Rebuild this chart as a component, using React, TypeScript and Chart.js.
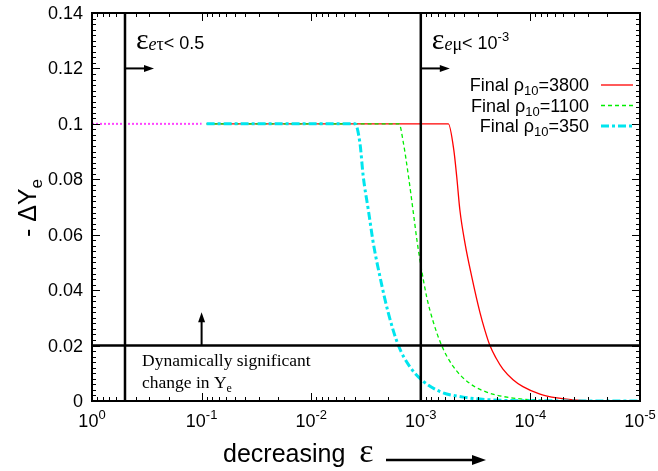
import React, { useEffect, useRef } from 'react';
import { Chart, registerables } from 'chart.js';
Chart.register(...registerables);

// ---- data ----
const eps3800 = [0.09, 5.6e-4, 5.0e-4, 4.7e-4, 4.4e-4, 3.95e-4, 3.43e-4, 2.88e-4, 2.6e-4, 2.34e-4, 2.06e-4, 1.78e-4, 1.44e-4, 1.17e-4, 8.17e-5, 5.71e-5, 4.08e-5, 2.5e-5, 1e-5];
const dY3800 = [0.1, 0.1, 0.0906, 0.0809, 0.0689, 0.0569, 0.0449, 0.0318, 0.0255, 0.0200, 0.0155, 0.0115, 0.0077, 0.0052, 0.0025, 0.0011, 0.0004, 0.0001, 0.0];

const eps1100 = [0.09, 1.58e-3, 1.44e-3, 1.3e-3, 1.17e-3, 1.08e-3, 1.0e-3, 8.83e-4, 7.69e-4, 6.45e-4, 5.05e-4, 3.56e-4, 2.34e-4, 1.53e-4, 1.01e-4, 5.37e-5, 1e-5];
const dY1100 = [0.1, 0.1, 0.093, 0.0815, 0.068, 0.0575, 0.049, 0.0375, 0.0285, 0.0200, 0.0124, 0.0063, 0.0028, 0.0012, 0.0005, 0.0001, 0.0];

const eps350 = [0.09, 3.98e-3, 3.59e-3, 3.35e-3, 3.01e-3, 2.71e-3, 2.36e-3, 1.98e-3, 1.6e-3, 1.26e-3, 9.82e-4, 6.68e-4, 4.1e-4, 2.51e-4, 1e-4, 1e-5];
const dY350 = [0.1, 0.1, 0.093, 0.081, 0.0689, 0.0569, 0.0449, 0.0318, 0.0200, 0.0124, 0.0076, 0.0034, 0.0014, 0.0005, 0.0001, 0.0];

const epsEarly = [1, 0.1];
const dYEarly = [0.1, 0.1];

const boundaryEps = [0.5, 1e-3];
const boundaryLabels = [['e', 'τ', '< 0.5', ''], ['e', 'μ', '< 10', '-3']];
const thresholdY = 0.02;
const arrowY = 0.12;
const upArrowEps = 0.1;
const upArrowTop = 0.032;

const xMajor = [1, 0.1, 0.01, 0.001, 1e-4, 1e-5];
const xExponents = ['0', '-1', '-2', '-3', '-4', '-5'];
const yMajor = [0, 0.02, 0.04, 0.06, 0.08, 0.1, 0.12, 0.14];
const yLabels = ['0', '0.02', '0.04', '0.06', '0.08', '0.1', '0.12', '0.14'];
const legendRho = ['3800', '1100', '350'];

const RED = '#ff0000';
const GREEN = '#00ee00';
const CYAN = '#00e5ee';
const MAGENTA = '#ff44ff';

const SANS = '"Liberation Sans", Arial, sans-serif';
const SERIF = '"Liberation Serif", "Times New Roman", serif';

type Part = { t: string; f: string; dy?: number };
function richWidth(ctx: CanvasRenderingContext2D, parts: Part[]) {
  let w = 0;
  for (const p of parts) { ctx.font = p.f; w += ctx.measureText(p.t).width; }
  return w;
}
function drawRich(ctx: CanvasRenderingContext2D, parts: Part[], x: number, y: number, align: 'left' | 'right' | 'center') {
  const w = richWidth(ctx, parts);
  let cx = align === 'left' ? x : align === 'right' ? x - w : x - w / 2;
  ctx.textAlign = 'left';
  ctx.textBaseline = 'alphabetic';
  for (const p of parts) {
    ctx.font = p.f;
    ctx.fillText(p.t, cx, y + (p.dy || 0));
    cx += ctx.measureText(p.t).width;
  }
}
function arrow(ctx: CanvasRenderingContext2D, x1: number, y1: number, x2: number, y2: number, lw: number, hl: number, hw: number) {
  const a = Math.atan2(y2 - y1, x2 - x1);
  ctx.lineWidth = lw;
  ctx.beginPath();
  ctx.moveTo(x1, y1);
  ctx.lineTo(x2 - Math.cos(a) * hl * 0.8, y2 - Math.sin(a) * hl * 0.8);
  ctx.stroke();
  ctx.beginPath();
  ctx.moveTo(x2, y2);
  ctx.lineTo(x2 - Math.cos(a) * hl - Math.sin(a) * hw, y2 - Math.sin(a) * hl + Math.cos(a) * hw);
  ctx.lineTo(x2 - Math.cos(a) * hl + Math.sin(a) * hw, y2 - Math.sin(a) * hl - Math.cos(a) * hw);
  ctx.closePath();
  ctx.fill();
}

const overlay = {
  id: 'overlay',
  afterDatasetsDraw(chart: any) {
    const ctx: CanvasRenderingContext2D = chart.ctx;
    const xs = chart.scales.x;
    const ys = chart.scales.y;
    const { left, right, top, bottom } = chart.chartArea;
    ctx.save();
    ctx.strokeStyle = '#000';
    ctx.fillStyle = '#000';

    // ticks (inward, mirrored)
    ctx.lineWidth = 1;
    ctx.beginPath();
    for (let d = 0; d < 5; d++) {
      for (let k = 2; k <= 9; k++) {
        const v = k * Math.pow(10, -(d + 1));
        const px = Math.round(xs.getPixelForValue(v)) + 0.5;
        ctx.moveTo(px, bottom); ctx.lineTo(px, bottom - 4);
        ctx.moveTo(px, top); ctx.lineTo(px, top + 4);
      }
    }
    for (const v of xMajor) {
      const px = Math.round(xs.getPixelForValue(v)) + 0.5;
      ctx.moveTo(px, bottom); ctx.lineTo(px, bottom - 8);
      ctx.moveTo(px, top); ctx.lineTo(px, top + 8);
    }
    for (let i = 0; i <= 70; i++) {
      const v = i * 0.002;
      const py = Math.round(ys.getPixelForValue(v)) + 0.5;
      const len = i % 10 === 0 ? 8 : 4;
      ctx.moveTo(left, py); ctx.lineTo(left + len, py);
      ctx.moveTo(right, py); ctx.lineTo(right - len, py);
    }
    ctx.stroke();

    // frame
    ctx.lineWidth = 2;
    ctx.strokeRect(left, top, right - left, bottom - top);

    // y tick labels
    ctx.font = `18px ${SANS}`;
    ctx.textAlign = 'right';
    ctx.textBaseline = 'middle';
    yMajor.forEach((v, i) => {
      ctx.fillText(yLabels[i], left - 9, ys.getPixelForValue(v) + 1);
    });
    // x tick labels
    xMajor.forEach((v, i) => {
      const px = xs.getPixelForValue(v);
      drawRich(ctx, [
        { t: '10', f: `18px ${SANS}` },
        { t: xExponents[i], f: `13px ${SANS}`, dy: -8 },
      ], px, bottom + 26, 'center');
    });

    // x axis title
    drawRich(ctx, [
      { t: 'decreasing  ', f: `25px ${SANS}` },
      { t: 'ε', f: `34px ${SERIF}` },
    ], 223, 462, 'left');
    arrow(ctx, 386, 460, 486, 460, 2.5, 14, 5);

    // y axis title
    ctx.save();
    ctx.translate(36, 208);
    ctx.rotate(-Math.PI / 2);
    drawRich(ctx, [
      { t: '- ΔY', f: `25px ${SANS}` },
      { t: 'e', f: `17px ${SANS}`, dy: 6 },
    ], 0, 0, 'center');
    ctx.restore();

    // boundary annotations
    boundaryEps.forEach((e, i) => {
      const px = xs.getPixelForValue(e);
      const lab = boundaryLabels[i];
      const parts: Part[] = [
        { t: 'ε', f: `30px ${SERIF}` },
        { t: lab[0], f: `italic 18px ${SERIF}`, dy: 1 },
        { t: lab[1], f: `18px ${SERIF}`, dy: 1 },
        { t: lab[2], f: `18px ${SANS}` },
      ];
      if (lab[3]) parts.push({ t: lab[3], f: `13px ${SANS}`, dy: -8 });
      drawRich(ctx, parts, px + 11, 49, 'left');
      const ay = ys.getPixelForValue(arrowY);
      arrow(ctx, px, ay, px + 29, ay, 2, 10, 3.5);
    });

    // threshold annotation
    const ux = xs.getPixelForValue(upArrowEps);
    arrow(ctx, ux, ys.getPixelForValue(thresholdY), ux, ys.getPixelForValue(upArrowTop), 2, 10, 3.5);
    drawRich(ctx, [{ t: 'Dynamically significant', f: `17.5px ${SERIF}` }], left + 50, 366, 'left');
    drawRich(ctx, [
      { t: 'change in Y', f: `17.5px ${SERIF}` },
      { t: 'e', f: `12px ${SERIF}`, dy: 4 },
    ], left + 50, 388, 'left');

    // legend
    const colors = [RED, GREEN, CYAN];
    const dashes = [[], [4, 3], [8, 3, 3, 3]];
    const widths = [1.3, 1.3, 3];
    legendRho.forEach((r, i) => {
      const y = 85 + i * 20.5;
      drawRich(ctx, [
        { t: 'Final ρ', f: `18px ${SANS}` },
        { t: '10', f: `13px ${SANS}`, dy: 4 },
        { t: '=' + r, f: `18px ${SANS}` },
      ], 589, y + 6, 'right');
      ctx.save();
      ctx.strokeStyle = colors[i];
      ctx.lineWidth = widths[i];
      ctx.setLineDash(dashes[i]);
      ctx.beginPath();
      ctx.moveTo(601, y);
      ctx.lineTo(633, y);
      ctx.stroke();
      ctx.restore();
    });

    ctx.restore();
  },
};

function pts(xs: number[], ys: number[]) {
  return xs.map((x, i) => ({ x, y: ys[i] }));
}

export default function App() {
  const ref = useRef<HTMLCanvasElement>(null);
  useEffect(() => {
    if (!ref.current) return;
    const chart = new Chart(ref.current, {
      type: 'line',
      data: {
        datasets: [
          { data: pts([boundaryEps[0], boundaryEps[0]], [0, 0.14]), borderColor: '#000', borderWidth: 2.5 },
          { data: pts([boundaryEps[1], boundaryEps[1]], [0, 0.14]), borderColor: '#000', borderWidth: 2.5 },
          { data: pts([1, 1e-5], [thresholdY, thresholdY]), borderColor: '#000', borderWidth: 2.5 },
          { data: pts(eps350, dY350), borderColor: CYAN, borderWidth: 3, borderDash: [8, 3, 3, 3], cubicInterpolationMode: 'monotone' },
          { data: pts(eps1100, dY1100), borderColor: GREEN, borderWidth: 1.3, borderDash: [4, 3], cubicInterpolationMode: 'monotone' },
          { data: pts(eps3800, dY3800), borderColor: RED, borderWidth: 1.3, cubicInterpolationMode: 'monotone' },
          { data: pts(epsEarly, dYEarly), borderColor: MAGENTA, borderWidth: 2, borderDash: [2, 2] },
        ] as any,
      },
      options: {
        animation: false,
        responsive: false,
        devicePixelRatio: 1,
        layout: { padding: { left: 92, right: 18, top: 13, bottom: 70 } },
        elements: { point: { radius: 0 }, line: { fill: false } },
        plugins: { legend: { display: false }, tooltip: { enabled: false } },
        scales: {
          x: { type: 'logarithmic', min: 1e-5, max: 1, reverse: true, display: false },
          y: { type: 'linear', min: 0, max: 0.14, display: false },
        },
      },
      plugins: [overlay],
    });
    return () => chart.destroy();
  }, []);
  return (
    <div style={{ position: 'fixed', left: 0, top: 0, width: 658, height: 471, background: '#fff' }}>
      <canvas ref={ref} width={658} height={471} />
    </div>
  );
}
